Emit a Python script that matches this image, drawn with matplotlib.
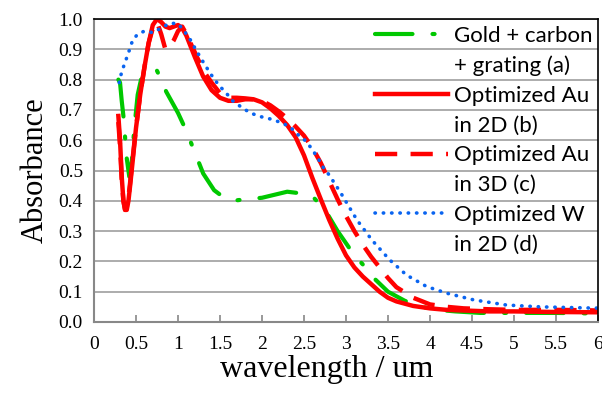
import matplotlib.pyplot as plt
from matplotlib.lines import Line2D

# Gold + carbon + grating (a)
x_a = [0.29, 0.31, 0.33, 0.35, 0.39, 0.42, 0.45, 0.48, 0.52, 0.56, 0.62, 0.68, 0.74, 0.80, 0.86,
       0.92, 1.0, 1.1, 1.2, 1.3, 1.43, 1.55, 1.65, 1.8, 2.0, 2.15, 2.3, 2.45, 2.6, 2.75, 2.9,
       3.0, 3.1, 3.2, 3.35, 3.5, 3.7, 3.9, 4.1, 4.3, 4.6, 5.0, 5.5, 6.0]
y_a = [0.80, 0.79, 0.73, 0.68, 0.54, 0.48, 0.53, 0.64, 0.75, 0.80, 0.81, 0.83, 0.835, 0.80, 0.76,
       0.73, 0.69, 0.63, 0.56, 0.49, 0.435, 0.41, 0.40, 0.405, 0.41, 0.42, 0.43, 0.425, 0.415, 0.37, 0.30,
       0.26, 0.22, 0.19, 0.14, 0.10, 0.07, 0.05, 0.04, 0.035, 0.03, 0.03, 0.03, 0.028]

# Optimized Au in 2D (b)
x_b = [0.29, 0.31, 0.33, 0.35, 0.37, 0.39, 0.41, 0.43, 0.46, 0.50, 0.55, 0.60, 0.65, 0.70, 0.75,
       0.80, 0.85, 0.90, 0.95, 1.0, 1.05, 1.1, 1.15, 1.2, 1.3, 1.4, 1.5, 1.6, 1.7, 1.8, 1.9, 2.0,
       2.1, 2.2, 2.3, 2.4, 2.5, 2.6, 2.7, 2.8, 2.9, 3.0, 3.1, 3.2, 3.3, 3.4, 3.5, 3.6, 3.8, 4.0,
       4.2, 4.4, 4.7, 5.0, 5.5, 6.0]
y_b = [0.68, 0.60, 0.48, 0.40, 0.37, 0.37, 0.40, 0.45, 0.53, 0.64, 0.75, 0.84, 0.92, 0.98, 1.0,
       0.99, 0.975, 0.97, 0.975, 0.98, 0.97, 0.945, 0.91, 0.875, 0.81, 0.765, 0.74, 0.73, 0.73, 0.735,
       0.735, 0.725, 0.705, 0.68, 0.65, 0.61, 0.55, 0.475, 0.405, 0.337, 0.275, 0.22, 0.18, 0.15,
       0.125, 0.10, 0.08, 0.068, 0.053, 0.045, 0.04, 0.038, 0.035, 0.035, 0.033, 0.032]

# Optimized Au in 3D (c)
x_c = [0.29, 0.31, 0.33, 0.35, 0.37, 0.39, 0.41, 0.43, 0.46, 0.50, 0.55, 0.60, 0.65, 0.70, 0.75,
       0.80, 0.85, 0.90, 0.95, 1.0, 1.05, 1.1, 1.2, 1.3, 1.4, 1.5, 1.6, 1.7, 1.8, 1.9, 2.0, 2.1,
       2.2, 2.3, 2.4, 2.5, 2.6, 2.7, 2.8, 2.9, 3.0, 3.1, 3.2, 3.3, 3.4, 3.5, 3.6, 3.8, 4.0, 4.2,
       4.4, 4.7, 5.0, 5.5, 6.0]
y_c = [0.66, 0.58, 0.47, 0.40, 0.37, 0.38, 0.41, 0.46, 0.54, 0.64, 0.75, 0.84, 0.92, 0.97, 0.99,
       0.95, 0.90, 0.91, 0.93, 0.96, 0.975, 0.95, 0.89, 0.83, 0.79, 0.755, 0.74, 0.74, 0.738, 0.735,
       0.73, 0.715, 0.695, 0.672, 0.645, 0.615, 0.575, 0.525, 0.465, 0.405, 0.35, 0.30, 0.255, 0.215,
       0.18, 0.145, 0.115, 0.08, 0.058, 0.05, 0.045, 0.042, 0.04, 0.04, 0.038]

# Optimized W in 2D (d)
x_d = [0.30, 0.32, 0.36, 0.40, 0.46, 0.52, 0.60, 0.70, 0.80, 0.90, 1.0, 1.08, 1.15, 1.21, 1.28,
       1.34, 1.41, 1.49, 1.57, 1.65, 1.75, 1.86, 1.98, 2.10, 2.21, 2.33, 2.42, 2.51, 2.59, 2.66,
       2.73, 2.80, 2.87, 2.94, 3.0, 3.13, 3.31, 3.52, 3.72, 3.96, 4.2, 4.52, 4.91, 5.31, 5.94, 6.0]
y_d = [0.79, 0.815, 0.85, 0.88, 0.93, 0.95, 0.96, 0.955, 0.97, 0.986, 0.985, 0.958, 0.93, 0.90, 0.867,
       0.84, 0.81, 0.78, 0.757, 0.73, 0.71, 0.69, 0.678, 0.67, 0.66, 0.645, 0.62, 0.60, 0.573, 0.543,
       0.51, 0.485, 0.455, 0.425, 0.397, 0.337, 0.27, 0.205, 0.155, 0.117, 0.095, 0.073, 0.056, 0.05,
       0.046, 0.046]

labels = [['Gold + carbon', '+ grating (a)'],
          ['Optimized Au', 'in 2D (b)'],
          ['Optimized Au', 'in 3D (c)'],
          ['Optimized W', 'in 2D (d)']]

xticks = [0, 0.5, 1, 1.5, 2, 2.5, 3, 3.5, 4, 4.5, 5, 5.5, 6]
xticklabels = ['0', '0.5', '1', '1.5', '2', '2.5', '3', '3.5', '4', '4.5', '5', '5.5', '6']

serif = 'Liberation Serif'

fig = plt.figure(figsize=(6.02, 3.99), dpi=100)
ax = fig.add_axes([94 / 602, 1 - 322 / 399, 504 / 602, 303 / 399])

la, = ax.plot(x_a, y_a, color='#00c800', lw=3, ls=(0, (9, 4.8, 0.5, 4.8)), dash_capstyle='round')
lb, = ax.plot(x_b, y_b, color='#ff0000', lw=3.2)
lc, = ax.plot(x_c, y_c, color='#ff0000', lw=3.2, ls=(0, (5, 3)))
ld, = ax.plot(x_d, y_d, color='#0a64f0', lw=2.6, ls=(0, (0.1, 2.2)), dash_capstyle='round')

ax.set_xlim(0, 6)
ax.set_ylim(0, 1.0)
ax.set_yticks([i / 10 for i in range(11)])
ax.set_yticklabels(['%.1f' % (i / 10) for i in range(11)], fontfamily=serif, fontsize=14)
ax.set_xticks(xticks)
ax.set_xticklabels(xticklabels, fontfamily=serif, fontsize=14)
ax.tick_params(axis='x', direction='in', length=5, width=1.2, color='#888888', pad=10)
ax.tick_params(axis='y', length=0, pad=8)
ax.yaxis.grid(True, color='#a6a6a6', lw=1.3)
ax.set_axisbelow(True)

for s in ['left', 'bottom']:
    ax.spines[s].set_color('#888888')
    ax.spines[s].set_linewidth(1.5)
for s in ['top', 'right']:
    ax.spines[s].set_color('black')
    ax.spines[s].set_linewidth(1.2)

ax.set_xlabel('wavelength / um', fontfamily=serif, fontsize=23)
ax.xaxis.set_label_coords(0.462, -0.11)
ax.set_ylabel('Absorbance', fontfamily=serif, fontsize=22, labelpad=6)

# two-line legend entries: blank handles carry the second lines
blank = Line2D([], [], color='none')
handles, texts = [], []
for h, lab in zip([la, lb, lc, ld], labels):
    handles += [h, blank]
    texts += lab
ax.legend(handles, texts, loc='upper left', bbox_to_anchor=(0.5575, 0.978), frameon=False,
          prop={'family': 'Lato', 'size': 16}, handlelength=3.3, handletextpad=0.27,
          labelspacing=0.44, borderaxespad=0, borderpad=0)

fig.savefig('out.png', dpi=100)
